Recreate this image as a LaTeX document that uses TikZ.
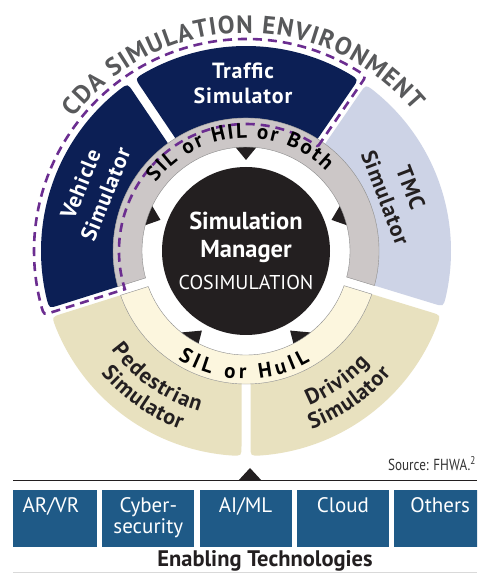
\documentclass[tikz,border=0pt]{standalone}
\usepackage{fontspec}
\setmainfont{PT Sans}
\newfontfamily\segfont[LetterSpace=4]{PT Sans}
\usepackage{graphicx}
\usetikzlibrary{calc}
\definecolor{navy}{HTML}{0C1F55}
\definecolor{lav}{HTML}{CDD3E6}
\definecolor{khaki}{HTML}{E8E1BF}
\definecolor{cream}{HTML}{FCF6DE}
\definecolor{ringgray}{HTML}{CCC7C7}
\definecolor{blk}{HTML}{231F20}
\definecolor{titlegray}{HTML}{58595B}
\definecolor{purp}{HTML}{6B2D90}
\definecolor{boxblue}{HTML}{1F5A87}
\def\gp{4.5}
\def\rc{10}
% annular segment with gap and rounded outer corners
\newcommand\annseg[5]{%
 \pgfmathsetmacro\dI{asin(\gp/#3)}%
 \pgfmathsetmacro\dO{asin(\gp/#4)+\rc/#4*180/pi}%
 \pgfmathsetmacro\aI{#1+\dI}\pgfmathsetmacro\bI{#2-\dI}%
 \pgfmathsetmacro\aO{#1+\dO}\pgfmathsetmacro\bO{#2-\dO}%
 \pgfmathsetmacro\rmid{#4-\rc}%
 \path[#5] ($(C)+(\aI:#3)$) -- ($(C)+(#1:\rmid)+({#1+90}:\gp)$)
   .. controls ($(C)+(#1:#4)+({#1+90}:\gp)$) .. ($(C)+(\aO:#4)$)
   arc[start angle=\aO, end angle=\bO, radius=#4]
   .. controls ($(C)+(#2:#4)+({#2-90}:\gp)$) .. ($(C)+(#2:\rmid)+({#2-90}:\gp)$)
   -- ($(C)+(\bI:#3)$)
   arc[start angle=\bI, end angle=\aI, radius=#3] -- cycle;}
% measuring characters (outside the picture)
\newdimen\chwd
\newcommand\premeasure[3]{%
 \foreach \achar [count=\ci] in {#3}{%
   \setbox0=\hbox{#2\achar}\chwd=\wd0\relax
   \pgfmathsetmacro\wnum{\the\chwd}%
   \expandafter\xdef\csname w#1\ci\endcsname{\wnum}}}
% characters along an arc: #1 name, #2 centre angle, #3 baseline radius,
% #4 font, #5 extra spacing, #6 direction (1 clockwise/top, -1 ccw/bottom), #7 chars
\newcommand\arcchars[7]{%
 \gdef\accum{0}%
 \foreach \achar [count=\ci] in {#7}{%
   \edef\wch{\csname w#1\ci\endcsname}%
   \pgfmathsetmacro\tmpw{\accum+\wch+#5}%
   \xdef\accum{\tmpw}}%
 \pgfmathsetmacro\startang{#2+(#6)*(\accum-#5)/2/#3*180/pi}%
 \gdef\accum{0}%
 \foreach \achar [count=\ci] in {#7}{%
   \edef\wch{\csname w#1\ci\endcsname}%
   \pgfmathsetmacro\thc{\startang-(#6)*(\accum+\wch/2)/#3*180/pi}%
   \pgfmathsetmacro\rotc{\thc-(#6)*90}%
   \node[anchor=base, inner sep=0, rotate=\rotc] (#1\ci) at ($(C)+(\thc:#3)$) {#4\achar};
   \pgfmathsetmacro\tmpw{\accum+\wch+#5}%
   \xdef\accum{\tmpw}}%
}
\def\fTitle{\bfseries\fontsize{25}{25}\selectfont\color{titlegray}}
\def\fRing{\bfseries\fontsize{21}{21}\selectfont\color{black}}
\def\fSeg{\bfseries\fontsize{22}{22}\selectfont\color{blk}}
\def\lTitle{C,D,A,~,S,I,M,U,L,A,T,I,O,N,~,E,N,V,I,R,O,N,M,E,N,T}
\def\lRingTop{S,I,L,~,o,r,~,H,I,L,~,o,r,~,B,o,t,h}
\def\lRingBot{S,I,L,~,o,r,~,H,u,I,L}
\def\lPed{P,e,d,e,s,t,r,i,a,n}
\def\lSim{S,i,m,u,l,a,t,o,r}
\def\lDrv{D,r,i,v,i,n,g}
\tikzset{
 seglabel/.style={font=\segfont\bfseries\fontsize{22}{27}\selectfont, align=center, inner sep=0},
 boxlabel/.style={font=\fontsize{21}{21}\selectfont, text=white, anchor=base, inner sep=0},
 techbox/.style={fill=boxblue, draw=none},
 dashline/.style={draw=purp, line width=2.6, dash pattern=on 9pt off 6pt}
}
\begin{document}
\expandafter\premeasure\expandafter{\expandafter t\expandafter i\expandafter t\expandafter l\expandafter e\expandafter}\expandafter{\expandafter\fTitle\expandafter}\expandafter{\lTitle}%
\expandafter\premeasure\expandafter{\expandafter r\expandafter t\expandafter}\expandafter{\expandafter\fRing\expandafter}\expandafter{\lRingTop}%
\expandafter\premeasure\expandafter{\expandafter r\expandafter b\expandafter}\expandafter{\expandafter\fRing\expandafter}\expandafter{\lRingBot}%
\expandafter\premeasure\expandafter{\expandafter p\expandafter d\expandafter}\expandafter{\expandafter\fSeg\expandafter}\expandafter{\lPed}%
\expandafter\premeasure\expandafter{\expandafter p\expandafter s\expandafter}\expandafter{\expandafter\fSeg\expandafter}\expandafter{\lSim}%
\expandafter\premeasure\expandafter{\expandafter d\expandafter v\expandafter}\expandafter{\expandafter\fSeg\expandafter}\expandafter{\lDrv}%
\expandafter\premeasure\expandafter{\expandafter d\expandafter s\expandafter}\expandafter{\expandafter\fSeg\expandafter}\expandafter{\lSim}%
\begin{tikzpicture}[x=1pt,y=1pt]
\useasboundingbox (0,0) rectangle (477,573);
\fill[white] (0,0) rectangle (477,573);
\coordinate (C) at (246,322);

% arrowheads
\foreach \ang/\sk in {90/0,160/0,20/0,237/4,303/-4}{
  \fill[blk] ($(C)+({\ang-6}:105)$) -- ($(C)+({\ang+6}:105)$) -- ($(C)+({\ang+\sk}:91)$) -- cycle;
}

% outer segments
\def\rc{10}
\annseg{124}{197.5}{133}{205}{fill=navy}
\annseg{55.5}{124}{133}{205}{fill=navy}
\annseg{-17}{55.5}{133}{205}{fill=lav}
\annseg{197.5}{270}{133}{205}{fill=khaki}
\annseg{270}{343}{133}{205}{fill=khaki}

% rings
\def\rc{0}
\annseg{-17}{197.5}{104}{133}{fill=ringgray, draw=black!45, line width=0.4}
\annseg{197.5}{343}{104}{133}{fill=cream, draw=black!45, line width=0.4}

% center
\node[circle, fill=blk, minimum size=168pt, inner sep=0] (mgrc) at (C) {};
\node[anchor=base, text=white, font=\bfseries\fontsize{24.5}{24.5}\selectfont, inner sep=0] (sim) at (246,343) {Simulation};
\node[anchor=base, text=white, font=\bfseries\fontsize{24.5}{24.5}\selectfont, inner sep=0] (mgr) at (246,315) {Manager};
\node[anchor=base, text=white, font=\fontsize{20}{20}\selectfont, inner sep=0] (cosim) at (246,283) {COSIMULATION};

% dashed boundary
\pgfmathsetmacro\dra{55.5+8/212*180/pi}
\pgfmathsetmacro\drb{197.5-8/212*180/pi}
\draw[dashline] ($(C)+(55.5:127)$) -- ($(C)+(55.5:204)$) .. controls ($(C)+(55.5:212)$) .. ($(C)+(\dra:212)$)
  arc[start angle=\dra, end angle=\drb, radius=212]
  .. controls ($(C)+(197.5:212)$) .. ($(C)+(197.5:204)$) -- ($(C)+(197.5:127)$)
  arc[start angle=197.5, end angle=55.5, radius=127] -- cycle;

% segment labels
\node[seglabel, text=white, anchor=base] (traf1) at (243,494) {Traffic};
\node[seglabel, text=white, anchor=base] (traf2) at (243,469) {Simulator};
\node[seglabel, text=white, rotate=68] (veh) at ($(C)+(158:165)$) {Vehicle\\Simulator};
\node[seglabel, text=blk, rotate=-69] (tmc) at ($(C)+(21:163)$) {TMC\\Simulator};

% curved labels
\arcchars{pd}{235}{167}{\fSeg}{1}{-1}{P,e,d,e,s,t,r,i,a,n}
\arcchars{ps}{235}{190}{\fSeg}{0.8}{-1}{S,i,m,u,l,a,t,o,r}
\arcchars{dv}{305}{167}{\fSeg}{1}{-1}{D,r,i,v,i,n,g}
\arcchars{ds}{305}{190}{\fSeg}{0.8}{-1}{S,i,m,u,l,a,t,o,r}

% ring labels
\arcchars{rt}{94}{113}{\fRing}{2}{1}{S,I,L,~,o,r,~,H,I,L,~,o,r,~,B,o,t,h}
\arcchars{rb}{269}{128}{\fRing}{4}{-1}{S,I,L,~,o,r,~,H,u,I,L}

% title
\arcchars{title}{91}{218}{\fTitle}{1.2}{1}{C,D,A,~,S,I,M,U,L,A,T,I,O,N,~,E,N,V,I,R,O,N,M,E,N,T}

% source
\node[anchor=base east, inner sep=0, text=black!80] (src) at (476,102)
  {\scalebox{0.82}[1]{\fontsize{16}{16}\selectfont Source: FHWA.\textsuperscript{2}}};

% rule and triangle
\coordinate (l1) at (13,92);
\coordinate (l2) at (477,92);
\draw[line width=1, blk] (l1) -- (l2);
\coordinate (t1) at (238,92);
\coordinate (t2) at (262,92);
\coordinate (t3) at (250,105);
\fill[blk] (t1) -- (t2) -- (t3) -- cycle;

% technology boxes
\begin{scope}
\clip (13,0) rectangle (477,573);
\foreach \bx in {5,102.3,199.6,296.9,394.2}{
  \fill[techbox] (\bx,26) rectangle ++(92,57);
}
\end{scope}
\node[boxlabel] (b1) at (51,60) {AR/VR};
\node[boxlabel] (b2a) at (148.3,60) {Cyber-};
\node[boxlabel] (b2b) at (148.3,39) {security};
\node[boxlabel] (b3) at (245.6,60) {AI/ML};
\node[boxlabel] (b4) at (342.9,60) {Cloud};
\node[boxlabel] (b5) at (440.2,60) {Others};

\node[anchor=base, inner sep=0, text=blk, font=\bfseries\fontsize{22.5}{22.5}\selectfont] (en) at (265,6) {Enabling Technologies};
\coordinate (g1) at (13,1);
\coordinate (g2) at (477,1);
\draw[black!15, line width=0.8] (g1) -- (g2);
\end{tikzpicture}
\end{document}
